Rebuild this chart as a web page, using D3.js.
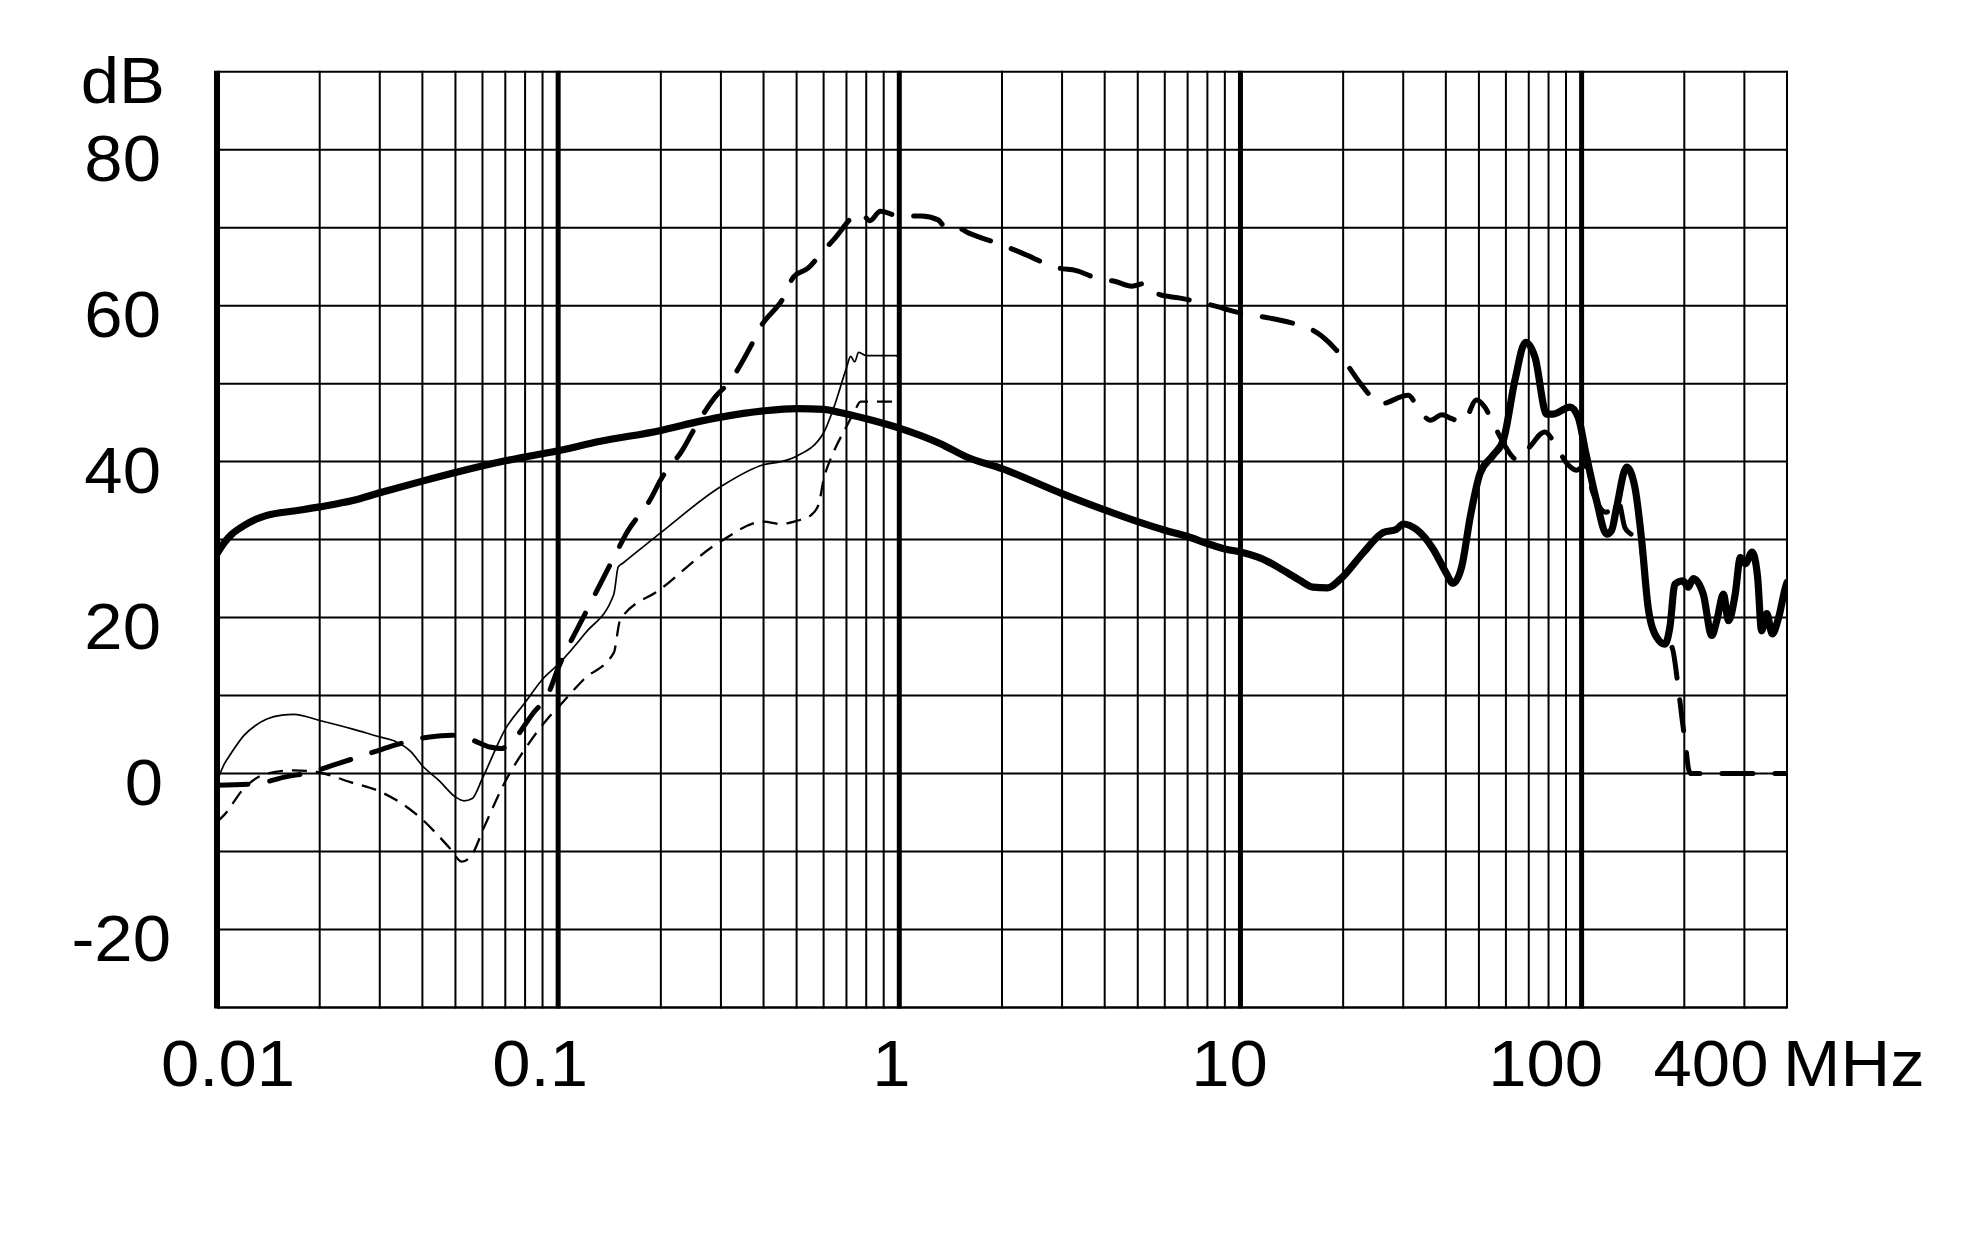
<!DOCTYPE html>
<html><head><meta charset="utf-8">
<script src="https://cdn.jsdelivr.net/npm/d3@7/dist/d3.min.js"></script>
<style>body{margin:0;background:#fff}svg{display:block}</style>
</head><body><svg id="chart" width="1979" height="1250"></svg>
<script>
// ---------- tick labels ----------
const xTickValues = [0.01, 0.1, 1, 10, 100, 400];
const xTickLabels = ["0.01", "0.1", "1", "10", "100", "400"];
const xUnit = "MHz";
const yTickValues = [80, 60, 40, 20, 0, -20];
const yTickLabels = ["80", "60", "40", "20", "0", "-20"];
const yUnit = "dB";

// ---------- series (frequency in MHz, level in dB) ----------
const thickSolidFreq = [0.01,0.0105,0.011,0.012,0.013,0.014,0.017,0.02,0.025,0.03,0.04,0.05,0.07,0.1,0.133,0.2,0.25,0.3,0.4,0.5,0.6,0.67,0.8,1.0,1.32,1.575,2.0,3.0,4.0,5.0,6.0,7.0,8.0,9.0,10,11.9,13.3,14.9,16.3,18.0,19.6,22.9,26.2,28.6,30,32.8,36.7,40,42,44.5,47.2,50.4,55,59,63.8,68.5,73,79,82.6,92.4,97.7,103,110.6,118.4,122.5,126.6,135.5,143.3,150,156.7,165.9,175.5,181.5,187.7,198.4,205.3,212.4,227.3,240.7,249,260.4,269.5,282,292,302,316,328,337,349,362,378,396,400];
const thickSolidDb   = [28.2,29.6,30.6,31.8,32.6,33.1,33.7,34.2,35.0,36.0,37.5,38.6,40.1,41.4,42.6,44.0,45.0,45.7,46.5,46.8,46.7,46.3,45.5,44.3,42.3,40.6,39.1,35.9,33.8,32.3,31.2,30.4,29.5,28.8,28.4,27.3,26.1,24.8,23.9,23.8,24.9,28.3,30.9,31.3,32.0,31.3,28.8,25.8,24.4,26.5,33.0,38.5,40.8,42.8,50.5,55.3,53.4,46.1,46.1,47.0,45.7,41.0,35.0,30.7,31.2,34.1,39.3,36.7,29.9,21.3,17.5,16.6,18.8,24.3,24.7,23.9,25.0,23.0,17.7,19.6,23.0,19.6,23.0,27.7,26.9,28.4,25.2,18.3,20.5,17.9,20.0,23.9,24.5];

const longDashFreq = [0.01,0.013,0.016,0.019,0.022,0.029,0.033,0.042,0.049,0.056,0.063,0.068,0.072,0.085,0.093,0.1,0.12,0.13,0.148,0.159,0.186,0.2,0.233,0.25,0.29,0.316,0.367,0.39,0.46,0.49,0.54,0.59,0.64,0.77,0.82,0.88,1.0,1.16,1.3,1.37,1.44,1.6,2.05,2.3,2.95,3.3,3.8,4.3,4.8,5.3,5.8,6.6,8.5,9.5,12.2,13.5,17.3,19.1,22.4,24.2,25.7,31.0,33.5,36,39,41.6,45,49.2,52,55.6,65.2,70.5,78,84.5,90.4,96.7,102,108,118,128,134,141,150,157,166,175,184,192,197,202,206,209,400];
const longDashDb   = [-1.5,-1.3,-0.4,0.2,1.1,2.8,3.6,4.7,4.9,4.3,3.4,3.2,3.8,7.9,10.0,13.5,20.5,23.5,28.3,30.9,35.1,37.7,41.7,44.1,48.4,50.1,54.8,57.1,61.2,63.7,64.8,66.7,68.4,71.9,70.9,72.1,71.5,71.5,71.0,70.0,70.2,69.3,67.6,66.7,64.8,64.5,63.5,63.1,62.5,62.9,61.4,61.0,59.9,59.3,58.4,58.0,56.1,54.3,50.1,48.3,47.4,48.5,46.6,45.3,46.0,45.5,45.1,47.9,47.0,44.5,40.2,41.9,43.8,41.9,39.8,38.9,39.5,36.0,33.5,35.0,31.5,30.5,28.5,21.0,17.3,17.0,16.2,11.0,7.0,3.4,0.5,0,0];

const thinSolidFreq = [0.01,0.0105,0.011,0.012,0.013,0.014,0.0155,0.0168,0.02,0.025,0.03,0.033,0.037,0.04,0.045,0.05,0.053,0.056,0.06,0.07,0.08,0.09,0.1,0.12,0.1456,0.15,0.155,0.2,0.3,0.4,0.45,0.5,0.6,0.64,0.7,0.72,0.74,0.76,0.8,0.98,1.0];
const thinSolidDb   = [-1.0,1.2,2.6,4.9,6.2,7.0,7.5,7.6,6.8,5.7,4.7,4.2,2.8,1.0,-1.0,-3.0,-3.5,-3.2,-0.6,5.7,9.1,12.1,14.0,18.0,23.0,26.5,27.0,30.9,36.8,39.6,40.0,40.7,43.7,46.7,52.0,53.5,52.8,54.0,53.6,53.6,53.2];

const thinDashFreq = [0.01,0.0105,0.012,0.014,0.0168,0.0196,0.0246,0.03,0.0386,0.0482,0.0522,0.0559,0.0605,0.0708,0.079,0.093,0.101,0.119,0.1456,0.152,0.199,0.3,0.4,0.45,0.5,0.55,0.58,0.6,0.64,0.7,0.74,0.77,1.0];
const thinDashDb   = [-6.2,-5.3,-1.9,0.0,0.4,0.2,-1.1,-2.3,-5.3,-9.6,-11.3,-10.4,-7.0,-0.6,2.8,7.0,8.7,12.1,15.5,19.7,23.6,29.8,32.3,32.0,32.4,33.1,34.5,37.7,41.1,44.5,46.5,47.7,47.7];

// ---------- layout ----------
const svg = d3.select("#chart");
svg.append("rect").attr("width", 1979).attr("height", 1250).attr("fill", "#fff");
const L = 217, R = 1787, T = 71.7, B = 1007.5;
const x = d3.scaleLog().domain([0.01, 400]).range([L, R]);
const y = d3.scaleLinear().domain([-30, 90]).range([B, T]);
const FONT = "'Liberation Sans', Arial, sans-serif";

// grid
const grid = svg.append("g");
const decades = [0.01, 0.1, 1, 10];
let vLines = [];
decades.forEach(d => { for (let m = 1; m <= 9; m++) vLines.push({f: d * m, major: m === 1}); });
vLines.push({f: 100, major: true}, {f: 200, major: false}, {f: 300, major: false}, {f: 400, major: false});
grid.selectAll("line.h").data(d3.range(-30, 91, 10)).join("line")
  .attr("x1", L).attr("x2", R).attr("y1", d => y(d)).attr("y2", d => y(d))
  .attr("stroke", "#000").attr("stroke-width", d => d === -30 ? 2.6 : 2);
grid.selectAll("line.v").data(vLines).join("line")
  .attr("x1", d => x(d.f)).attr("x2", d => x(d.f)).attr("y1", T - 1).attr("y2", B + 1)
  .attr("stroke", "#000").attr("stroke-width", d => d.f === 0.01 ? 6 : (d.major ? 5 : 2));

// curves
const line = d3.line().x(d => x(d[0])).y(d => y(d[1])).curve(d3.curveMonotoneX);
const clip = svg.append("clipPath").attr("id", "clip").append("rect")
  .attr("x", L).attr("y", T - 10).attr("width", R - L).attr("height", B - T + 20);
const curves = svg.append("g").attr("clip-path", "url(#clip)");
function draw(fs, ds, w, dash, cap) {
  curves.append("path").datum(fs.map((f, i) => [f, ds[i]]))
    .attr("d", line).attr("fill", "none").attr("stroke", "#000")
    .attr("stroke-width", w).attr("stroke-linejoin", "round")
    .attr("stroke-linecap", cap).attr("stroke-dasharray", dash);
}
draw(thinDashFreq, thinDashDb, 2.3, "15,9", "butt");
draw(thinSolidFreq, thinSolidDb, 1.7, null, "round");
draw(longDashFreq, longDashDb, 5, "31,22", "round");
draw(thickSolidFreq, thickSolidDb, 7.2, null, "round");

// axis labels
const SX = 1.06, FS = 65;
const xDx = [11, -18, -8, -11, -36, -76];
xTickValues.forEach((v, i) => {
  svg.append("text").attr("transform", `translate(${x(v) + xDx[i]},1086) scale(${SX},1)`)
    .attr("text-anchor", "middle").attr("font-family", FONT).attr("font-size", FS)
    .attr("fill", "#000").text(xTickLabels[i]);
});
svg.append("text").attr("transform", `translate(1783,1086) scale(${SX},1)`)
  .attr("text-anchor", "start").attr("font-family", FONT).attr("font-size", FS)
  .attr("fill", "#000").text(xUnit);

const yDx = [0, 0, 0, 0, 2, 10];
yTickValues.forEach((v, i) => {
  svg.append("text").attr("transform", `translate(${161 + yDx[i]},${y(v) + 31}) scale(${SX},1)`)
    .attr("text-anchor", "end").attr("font-family", FONT).attr("font-size", FS)
    .attr("fill", "#000").text(yTickLabels[i]);
});
svg.append("text").attr("transform", `translate(165,103) scale(${SX},1)`)
  .attr("text-anchor", "end").attr("font-family", FONT).attr("font-size", FS)
  .attr("fill", "#000").text(yUnit);
</script></body></html>
